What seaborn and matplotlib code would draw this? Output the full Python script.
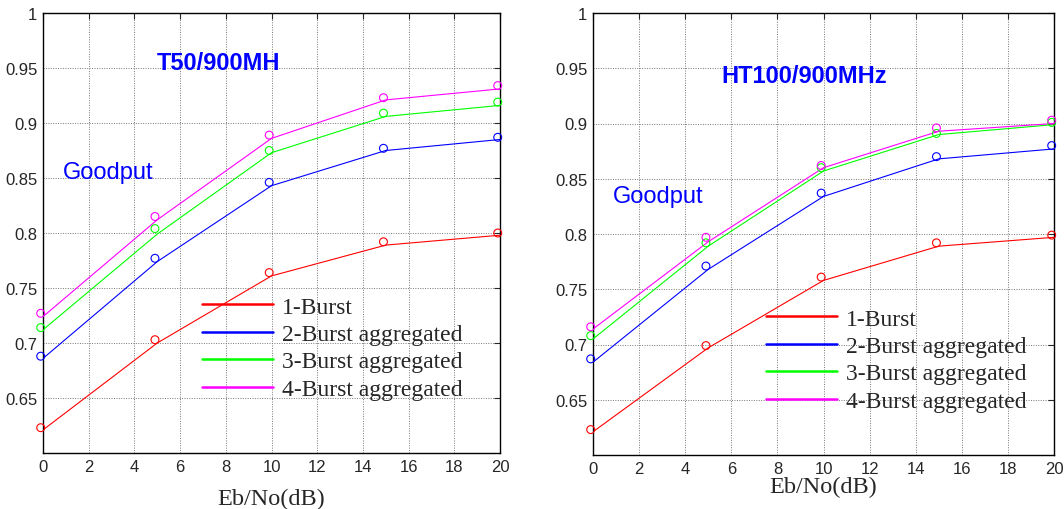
import matplotlib
matplotlib.use("Agg")
import matplotlib.pyplot as plt
import numpy as np
import pandas as pd
import seaborn as sns

# -----------------------------
# Data
# -----------------------------
snr_db = [0, 5, 10, 15, 20]
snr_marker = [-0.1, 4.9, 9.9, 14.9, 19.9]
series = ["1-Burst", "2-Burst aggregated", "3-Burst aggregated", "4-Burst aggregated"]
colors = ["#ff0000", "#0000ff", "#00ff00", "#ff00ff"]

# T50 / 900 MHz : simulated points (circles) and fitted lines
t50_pts_1 = [0.623, 0.703, 0.764, 0.792, 0.800]
t50_pts_2 = [0.688, 0.777, 0.846, 0.877, 0.887]
t50_pts_3 = [0.714, 0.804, 0.875, 0.909, 0.919]
t50_pts_4 = [0.727, 0.815, 0.889, 0.923, 0.934]
t50_fit_1 = [0.621, 0.700, 0.761, 0.789, 0.798]
t50_fit_2 = [0.686, 0.774, 0.843, 0.875, 0.885]
t50_fit_3 = [0.712, 0.799, 0.873, 0.906, 0.916]
t50_fit_4 = [0.724, 0.812, 0.886, 0.921, 0.931]

# HT100 / 900 MHz
ht100_pts_1 = [0.623, 0.699, 0.761, 0.792, 0.799]
ht100_pts_2 = [0.687, 0.771, 0.837, 0.870, 0.880]
ht100_pts_3 = [0.708, 0.792, 0.860, 0.891, 0.901]
ht100_pts_4 = [0.716, 0.797, 0.862, 0.896, 0.903]
ht100_fit_1 = [0.621, 0.697, 0.758, 0.789, 0.797]
ht100_fit_2 = [0.684, 0.768, 0.834, 0.868, 0.877]
ht100_fit_3 = [0.705, 0.789, 0.857, 0.890, 0.899]
ht100_fit_4 = [0.714, 0.793, 0.860, 0.893, 0.900]

y_ticks = [0.65, 0.7, 0.75, 0.8, 0.85, 0.9, 0.95, 1.0]
x_ticks = list(range(0, 21, 2))

sns.set_style("white")
plt.rcParams["font.family"] = ["Liberation Sans", "DejaVu Sans"]
serif = ["Liberation Serif", "DejaVu Serif"]


def long_form(lists, xs):
    rows = []
    for name, vals in zip(series, lists):
        for x, v in zip(xs, vals):
            rows.append({"x": x, "y": v, "series": name})
    return pd.DataFrame(rows)


def draw_panel(ax, pts, fits, title, title_xy, goodput_xy, leg_anchor, xlabel_pad):
    fit_df = long_form(fits, snr_db)
    sns.lineplot(data=fit_df, x="x", y="y", hue="series", hue_order=series,
                 palette=colors, linewidth=0.8, ax=ax, legend=True)
    for vals, c in zip(pts, colors):
        sns.scatterplot(x=snr_marker, y=vals, ax=ax, marker="o", s=32,
                        color=c, facecolor="none", edgecolor=c, linewidth=0.8,
                        zorder=3, clip_on=False)

    ax.set_xlim(0, 20)
    ax.set_ylim(0.6, 1.0)
    ax.set_xticks(x_ticks)
    ax.set_yticks(y_ticks)
    ax.set_yticklabels(["%g" % t for t in y_ticks])
    ax.tick_params(direction="in", length=4, width=0.8, top=True, right=True,
                   labelsize=12, pad=4)
    ax.grid(True, linestyle=(0, (1, 1.5)), color="#777777", linewidth=0.7)
    for sp in ax.spines.values():
        sp.set_color("black")
        sp.set_linewidth(1.0)

    ax.set_xlabel("Eb/No(dB)", fontsize=17.5, family=serif, labelpad=xlabel_pad)
    ax.set_ylabel("")

    ax.text(title_xy[0], title_xy[1], title, transform=ax.transAxes,
            color="#0000ff", fontsize=17, fontweight="bold", ha="left", va="center")
    ax.text(goodput_xy[0], goodput_xy[1], "Goodput", transform=ax.transAxes,
            color="#0000ff", fontsize=17, ha="left", va="center")

    handles, labels = ax.get_legend_handles_labels()
    leg = ax.legend(handles, labels, loc="upper left", bbox_to_anchor=leg_anchor,
                    frameon=False, prop={"family": serif, "size": 17},
                    handlelength=3.0, handletextpad=0.4, labelspacing=0.25,
                    borderpad=0, borderaxespad=0)
    for h in leg.get_lines():
        h.set_linewidth(1.8)


fig = plt.figure(figsize=(10.64, 5.10), dpi=100)
ax1 = fig.add_axes([43 / 1064, 1 - 454 / 510, 457 / 1064, 440 / 510])
ax2 = fig.add_axes([593 / 1064, 1 - 456 / 510, 461 / 1064, 442 / 510])

draw_panel(ax1,
           [t50_pts_1, t50_pts_2, t50_pts_3, t50_pts_4],
           [t50_fit_1, t50_fit_2, t50_fit_3, t50_fit_4],
           "T50/900MH", ((157 - 43) / 457, (454 - 64) / 440),
           ((63 - 43) / 457, (454 - 173) / 440),
           ((202 - 43) / 457, (454 - 297) / 440), 10)
draw_panel(ax2,
           [ht100_pts_1, ht100_pts_2, ht100_pts_3, ht100_pts_4],
           [ht100_fit_1, ht100_fit_2, ht100_fit_3, ht100_fit_4],
           "HT100/900MHz", ((721 - 593) / 461, (456 - 77) / 442),
           ((613 - 593) / 461, (456 - 197) / 442),
           ((766 - 593) / 461, (456 - 309) / 442), 0)

fig.savefig("out.png", dpi=100)
